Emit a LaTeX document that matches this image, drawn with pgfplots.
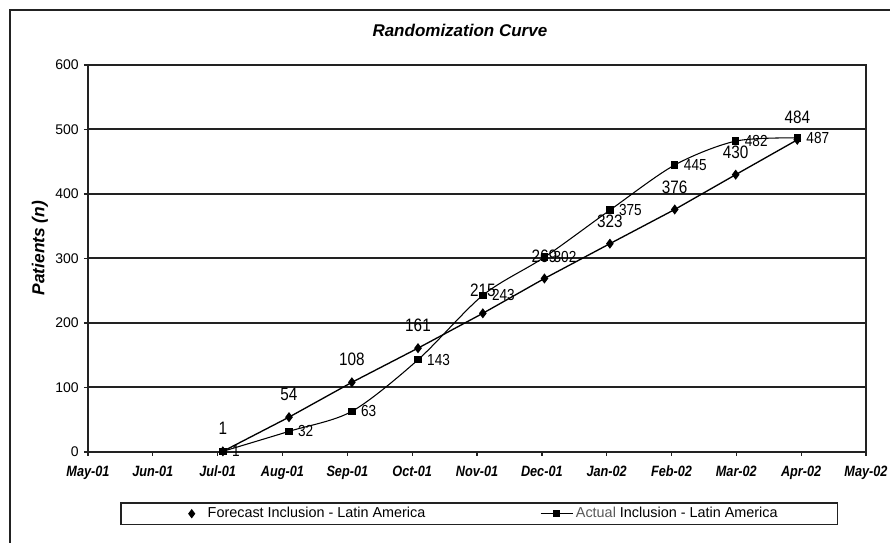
\documentclass[border=0pt]{standalone}
\usepackage{fontspec}
\setmainfont{Liberation Sans}
\newfontfamily\narrowfont[FakeStretch=0.85]{Liberation Sans}
\usepackage{pgfplots}
\pgfplotsset{compat=1.18}

\definecolor{ink}{HTML}{222222}

% months after May-01 at which the points sit
\pgfplotstableread{
x     forecast actual
2.08  1        1
3.10  54       32
4.07  108      63
5.09  161      143
6.09  215      243
7.04  269      302
8.05  323      375
9.05  376      445
9.99  430      482
10.94 484      487
}\curve

\begin{document}
\begin{tikzpicture}[x=0.75pt,y=0.75pt]
% 1 unit = 1 px of the 890x543 reference; the axis box starts at (88,452) px
\useasboundingbox (-88,-91) rectangle (802,452);
\begin{scope}
  \clip (-88,-91) rectangle (802,452);
  \draw[ink, line width=1.4pt] (-78,-140) rectangle (860,442);
\end{scope}

\begin{axis}[
    at={(0,0)}, anchor=south west,
    scale only axis, width=583.5pt, height=290.25pt,
    xmin=0, xmax=12, ymin=0, ymax=600,
    xtick={0,...,12},
    xticklabels={May-01,Jun-01,Jul-01,Aug-01,Sep-01,Oct-01,Nov-01,Dec-01,Jan-02,Feb-02,Mar-02,Apr-02,May-02},
    ytick={0,100,...,600},
    tick pos=left, tick align=outside, major tick length=3pt,
    tick style={ink, line width=1pt},
    axis line style={ink, line width=1.5pt},
    ymajorgrids, major grid style={ink, line width=1.5pt},
    /pgf/number format/assume math mode=true,
    yticklabel style={font=\fontsize{10.5}{12}\selectfont, xshift=-0.5pt},
    xticklabel style={font=\narrowfont\bfseries\itshape\fontsize{11.2}{13}\selectfont, yshift=-4pt},
    title={Randomization Curve},
    title style={at={(0.478,1)}, anchor=center, yshift=20pt,
                 font=\bfseries\itshape\fontsize{12.75}{15}\selectfont},
    ylabel={Patients (\textit{n})},
    every axis y label/.style={at={(rel axis cs:0,0.527)}, xshift=-36pt,
                 rotate=90, anchor=center, font=\bfseries\itshape\fontsize{13}{15}\selectfont},
    legend columns=2,
    legend style={at={(0.503,0)}, anchor=north, yshift=-37.5pt,
                  draw=ink, line width=1.2pt, inner xsep=43pt, inner ysep=1.5pt,
                  font=\fontsize{10.8}{12}\selectfont,
                  /tikz/every even column/.append style={column sep=84pt}},
]

\addlegendimage{legend image code/.code={
    \draw[draw=none, black, mark=diamond*, mark size=2.6pt, mark repeat=2, mark phase=2]
      plot coordinates {(0pt,0pt) (10pt,0pt) (20pt,0pt)};}}
\addlegendentry{Forecast Inclusion - Latin America}
\addlegendimage{legend image code/.code={
    \draw[black, line width=0.9pt, mark=square*, mark size=2.2pt, mark repeat=2, mark phase=2]
      plot coordinates {(0pt,0pt) (12pt,0pt) (24pt,0pt)};}}
\addlegendentry{{\color{gray!70!black}Actual} Inclusion - Latin America}

\addplot[forget plot, black, line width=1pt, mark=diamond*, mark size=3pt,
    nodes near coords,
    nodes near coords style={anchor=center, yshift=17pt, black,
        font=\narrowfont\fontsize{13.5}{15}\selectfont}]
    table[x=x, y=forecast] {\curve};

\addplot[forget plot, black, line width=0.8pt, smooth, mark=square*, mark size=2.4pt,
    nodes near coords,
    nodes near coords style={anchor=west, xshift=5.5pt, inner sep=1pt, black,
        font=\narrowfont\fontsize{12}{14}\selectfont}]
    table[x=x, y=actual] {\curve};

\end{axis}
\end{tikzpicture}
\end{document}
